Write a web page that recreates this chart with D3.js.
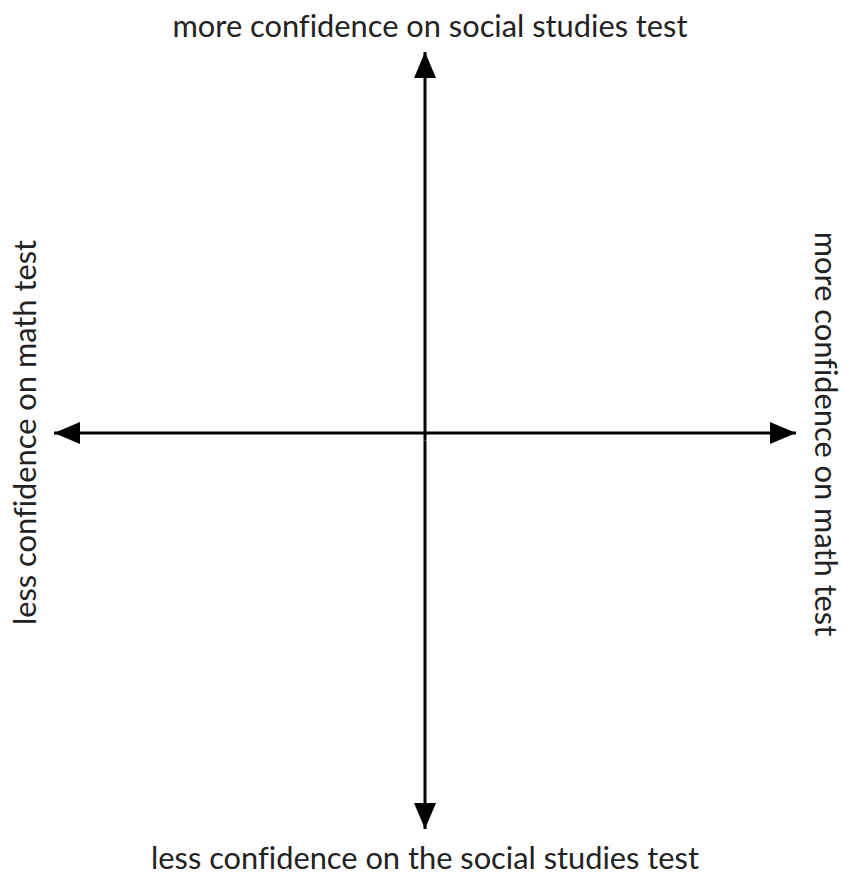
<!DOCTYPE html>
<html>
<head>
<meta charset="utf-8">
<script src="https://cdn.jsdelivr.net/npm/d3@7"></script>
<style>
  body { margin: 0; background: #fff; }
  text { font-family: Lato, sans-serif; fill: #222; font-size: 30.8px; font-variant-ligatures: none; }
</style>
</head>
<body>
<svg width="850" height="875"></svg>
<script>
// axis ends (value space -1..1) and their labels
var axisLabels = {
  top: "more confidence on social studies test",
  bottom: "less confidence on the social studies test",
  left: "less confidence on math test",
  right: "more confidence on math test"
};
var xDomain = [-1, 1];
var yDomain = [-1, 1];
var axes = [
  {name: "horizontal", from: [0, 0], to: [-1, 0]},
  {name: "horizontal", from: [0, 0], to: [1, 0]},
  {name: "vertical", from: [0, 0], to: [0, 1]},
  {name: "vertical", from: [0, 0], to: [0, -1]}
];

var svg = d3.select("svg"),
  width = +svg.attr("width"),
  height = +svg.attr("height");

var x = d3.scaleLinear().domain(xDomain).range([54, 796]);
var y = d3.scaleLinear().domain(yDomain).range([829, 52]);

svg.append("defs").append("marker")
  .attr("id", "arrow")
  .attr("viewBox", "0 0 26 22")
  .attr("refX", 26)
  .attr("refY", 11)
  .attr("markerWidth", 26)
  .attr("markerHeight", 22)
  .attr("markerUnits", "userSpaceOnUse")
  .attr("orient", "auto")
  .append("path")
  .attr("d", "M0,0L26,11L0,22Z")
  .attr("fill", "#000");

var cx = x(0), cy = 433;

svg.append("g")
  .selectAll("line")
  .data(axes)
  .enter().append("line")
  .attr("x1", function(d) { return x(d.from[0]); })
  .attr("y1", function(d) { return d.name == "horizontal" ? cy : y(d.from[1]); })
  .attr("x2", function(d) { return x(d.to[0]); })
  .attr("y2", function(d) { return d.name == "horizontal" ? cy : y(d.to[1]); })
  .attr("stroke", "#000")
  .attr("stroke-width", 3)
  .attr("marker-end", "url(#arrow)");

svg.append("text")
  .attr("x", 430).attr("y", 37)
  .attr("text-anchor", "middle")
  .text(axisLabels.top);

svg.append("text")
  .attr("x", 425).attr("y", 869)
  .attr("text-anchor", "middle")
  .text(axisLabels.bottom);

svg.append("text")
  .attr("transform", "translate(36,432.5) rotate(-90)")
  .attr("text-anchor", "middle")
  .text(axisLabels.left);

svg.append("text")
  .attr("transform", "translate(815,434) rotate(90)")
  .attr("text-anchor", "middle")
  .text(axisLabels.right);
</script>
</body>
</html>
